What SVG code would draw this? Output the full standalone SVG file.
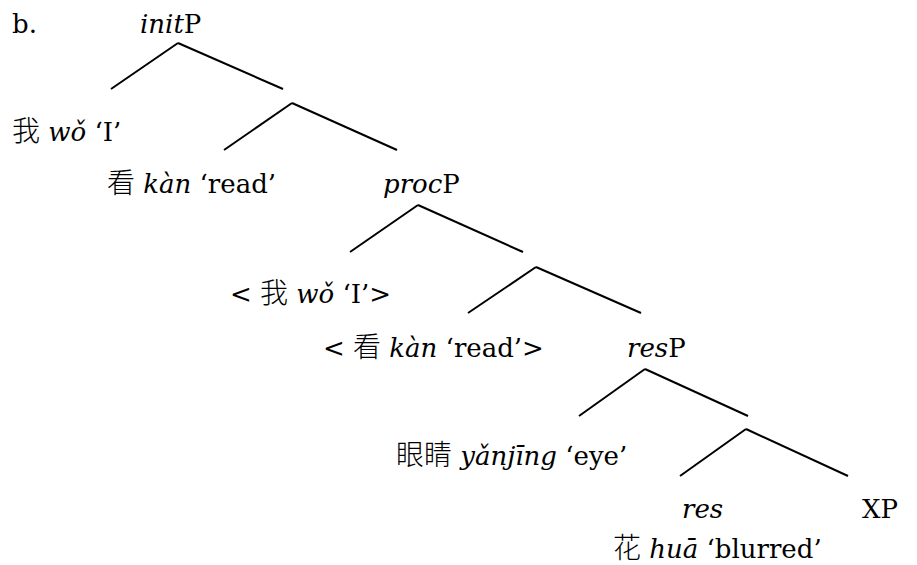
<svg xmlns="http://www.w3.org/2000/svg" width="917" height="565" viewBox="0 0 917 565">
<style>
.t{font-family:'DejaVu Serif','Liberation Serif',serif;font-size:26px;fill:#000}
.i{font-style:italic}
.c{font-family:'Noto Sans CJK SC',sans-serif;font-size:28px;font-weight:300;font-style:normal}
#edges line{stroke:#000;stroke-width:2;stroke-linecap:butt}
</style>
<rect width="917" height="565" fill="#fff"/>
<text class="t" id="label-b" x="12" y="33">b.</text>
<g id="edges">
<line x1="178" y1="43" x2="111" y2="89"/>
<line x1="178" y1="43" x2="283" y2="89"/>
<line x1="292" y1="103" x2="224" y2="150"/>
<line x1="292" y1="103" x2="397" y2="150"/>
<line x1="418" y1="205" x2="350" y2="252"/>
<line x1="418" y1="205" x2="523" y2="252"/>
<line x1="536" y1="267" x2="468" y2="313"/>
<line x1="536" y1="267" x2="641" y2="313"/>
<line x1="645" y1="369" x2="579" y2="416"/>
<line x1="645" y1="369" x2="748" y2="416"/>
<line x1="746" y1="429" x2="680" y2="476"/>
<line x1="746" y1="429" x2="848" y2="476"/>
</g>
<g id="initP"><text class="t" x="140" y="33"><tspan class="i">init</tspan>P</text></g>
<g id="wo"><text class="t" x="12" y="141"><tspan class="c">我</tspan> <tspan class="i">wǒ</tspan> ‘I’</text></g>
<g id="kan"><text class="t" x="107" y="193"><tspan class="c">看</tspan> <tspan class="i">kàn</tspan> ‘read’</text></g>
<g id="procP"><text class="t" x="383" y="193"><tspan class="i">proc</tspan>P</text></g>
<g id="wo-trace"><text class="t" x="230" y="303">&lt; <tspan class="c">我</tspan> <tspan class="i">wǒ</tspan> ‘I’&gt;</text></g>
<g id="kan-trace"><text class="t" x="323" y="357">&lt; <tspan class="c">看</tspan> <tspan class="i">kàn</tspan> ‘read’&gt;</text></g>
<g id="resP"><text class="t" x="627" y="357"><tspan class="i">res</tspan>P</text></g>
<g id="yanjing"><text class="t" x="396" y="465"><tspan class="c">眼睛</tspan> <tspan class="i">yǎnjīng</tspan> ‘eye’</text></g>
<g id="res"><text class="t i" x="682" y="518">res</text></g>
<g id="XP"><text class="t" x="862" y="518">XP</text></g>
<g id="hua"><text class="t" x="613" y="558"><tspan class="c">花</tspan> <tspan class="i">huā</tspan> ‘blurred’</text></g>
</svg>
